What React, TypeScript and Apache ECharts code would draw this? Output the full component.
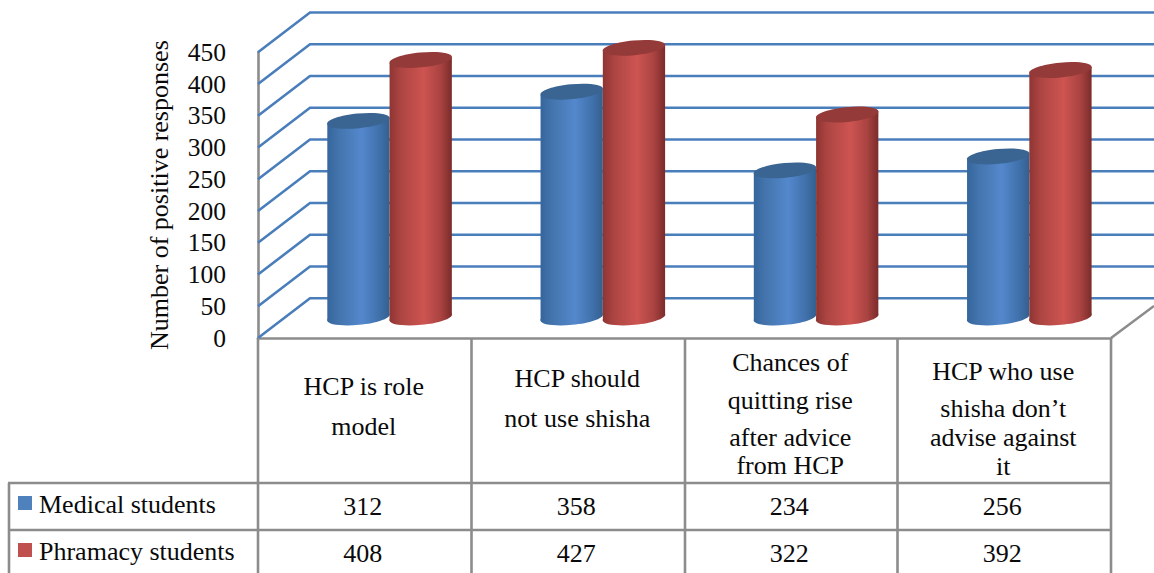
import React, { useEffect, useRef } from "react";
import * as echarts from "echarts";

const categories = ["HCP is role model", "HCP should not use shisha", "Chances of quitting rise after advice from HCP", "HCP who use shisha don\u2019t advise against it"];
const categoryLines = [
  ["HCP is role", "model"],
  ["HCP should", "not use shisha"],
  ["Chances of", "quitting rise", "after advice", "from HCP"],
  ["HCP who use", "shisha don\u2019t", "advise against", "it"],
];
const categoryLineY = [
  [386, 426],
  [378, 418],
  [362, 400, 437, 465],
  [371, 408, 437, 466],
];
const medical = [312, 358, 234, 256];
const pharmacy = [408, 427, 322, 392];
const ticks = [0, 50, 100, 150, 200, 250, 300, 350, 400, 450];
const seriesNames = ["Medical students", "Phramacy students"];

const FONT = "Liberation Serif";
const GREY = "#8c8c8c";
const W = 1154, H = 573;
const L = 258, R = 1111, T0 = 338, T450 = 52.25;
const DX = 52, DY = 39.7;
const colX = [258, 471.5, 685, 897.5, 1111];

function cylinder(side: number, stops: string[], topColor: string) {
  return (_p: any, api: any) => {
    const c = api.coord([api.value(0), api.value(1)]);
    const base = api.coord([api.value(0), 0]);
    const band = api.size([1, 0])[0];
    const rx = band * 0.146;
    const ry = 7.4;
    const tilt = 3;
    const cx = c[0] + band * 0.117 + side * rx;
    const topY = c[1] - 19;
    const baseY = base[1] - 20.5;
    const fill = new echarts.graphic.LinearGradient(0, 0, 1, 0, [
      { offset: 0, color: stops[0] },
      { offset: 0.18, color: stops[1] },
      { offset: 0.55, color: stops[2] },
      { offset: 0.82, color: stops[3] },
      { offset: 1, color: stops[4] },
    ]);
    const rot = (5.5 * Math.PI) / 180;
    return {
      type: "group",
      children: [
        { type: "ellipse", x: cx, y: baseY, rotation: rot, shape: { cx: 0, cy: 0, rx: rx + 0.3, ry }, style: { fill } },
        {
          type: "polygon",
          shape: { points: [[cx - rx, topY + tilt], [cx + rx, topY - tilt], [cx + rx, baseY - tilt], [cx - rx, baseY + tilt]] },
          style: { fill },
        },
        { type: "ellipse", x: cx, y: topY, rotation: rot, shape: { cx: 0, cy: 0, rx: rx + 0.3, ry }, style: { fill: topColor } },
      ],
    };
  };
}

function wallLine(params: any, api: any) {
  const p = api.coord([0, api.value(0)]);
  const x0 = params.coordSys.x;
  return {
    type: "polyline",
    shape: { points: [[x0, p[1]], [x0 + DX, p[1] - DY], [W, p[1] - DY]] },
    style: { stroke: "#4a7ebb", lineWidth: 2.6, fill: "none" },
  };
}

export default function App() {
  const ref = useRef<HTMLDivElement>(null);
  useEffect(() => {
    document.body.style.margin = "0";
    const chart = echarts.init(ref.current!, undefined, { renderer: "svg" });
    const textStyle = (text: string, x: number, y: number, align = "center", fontSize = 26) => ({
      type: "text",
      x,
      y,
      z: 10,
      style: { text, fontFamily: FONT, fontSize, fill: "#0a0a0a", align, verticalAlign: "middle" },
    });
    const line = (x1: number, y1: number, x2: number, y2: number) => ({
      type: "line",
      z: 5,
      shape: { x1, y1, x2, y2 },
      style: { stroke: GREY, lineWidth: 2.6 },
    });
    const graphics: any[] = [];
    colX.forEach((x) => graphics.push(line(x, T0, x, H)));
    graphics.push(line(8, 483, R, 483), line(8, 530, R, 530), line(9, 483, 9, H));
    graphics.push(line(R, T0, W, T0 - 32));
    categoryLines.forEach((lines, i) =>
      lines.forEach((t, j) => graphics.push(textStyle(t, (colX[i] + colX[i + 1]) / 2 - 1, categoryLineY[i][j])))
    );
    medical.forEach((v, i) => graphics.push(textStyle(String(v), (colX[i] + colX[i + 1]) / 2 - 2, 506)));
    pharmacy.forEach((v, i) => graphics.push(textStyle(String(v), (colX[i] + colX[i + 1]) / 2 - 2, 553)));
    graphics.push(
      { type: "rect", shape: { x: 18, y: 496, width: 14, height: 14 }, style: { fill: "#4f81bd" } },
      { type: "rect", shape: { x: 18, y: 543, width: 14, height: 14 }, style: { fill: "#c0504d" } },
      textStyle(seriesNames[0], 39, 504, "left"),
      textStyle(seriesNames[1], 39, 551, "left")
    );
    chart.setOption({
      animation: false,
      backgroundColor: "#fff",
      grid: { left: L, top: T450, width: R - L, height: T0 - T450 },
      xAxis: {
        type: "category",
        data: categories,
        axisLine: { show: true, lineStyle: { color: GREY, width: 2.6 } },
        axisTick: { show: false },
        axisLabel: { show: false },
      },
      yAxis: {
        type: "value",
        min: 0,
        max: 450,
        interval: 50,
        name: "Number of positive responses",
        nameLocation: "middle",
        nameGap: 86,
        nameRotate: 90,
        nameTextStyle: { fontFamily: FONT, fontSize: 26, color: "#0a0a0a" },
        axisLine: { show: true, lineStyle: { color: GREY, width: 2.6 } },
        axisTick: { show: false },
        splitLine: { show: false },
        axisLabel: { fontFamily: FONT, fontSize: 25.5, color: "#0a0a0a", margin: 32 },
      },
      series: [
        { type: "custom", name: "wall", silent: true, data: ticks.map((v) => [v]), encode: { y: 0 }, renderItem: wallLine, z: 1 },
        {
          type: "custom",
          name: seriesNames[0],
          z: 2,
          data: medical.map((v, i) => [i, v]),
          encode: { x: 0, y: 1 },
          renderItem: cylinder(-1, ["#35659c", "#4374ac", "#5488cd", "#4172ad", "#34608f"], "#3a6492"),
        },
        {
          type: "custom",
          name: seriesNames[1],
          z: 3,
          data: pharmacy.map((v, i) => [i, v]),
          encode: { x: 0, y: 1 },
          renderItem: cylinder(1, ["#8e3533", "#ad4542", "#cd5451", "#a94341", "#7b2b2a"], "#943a38"),
        },
      ],
      graphic: graphics,
    });
    return () => chart.dispose();
  }, []);
  return <div ref={ref} style={{ position: "absolute", left: 0, top: 0, width: W, height: H }} />;
}
